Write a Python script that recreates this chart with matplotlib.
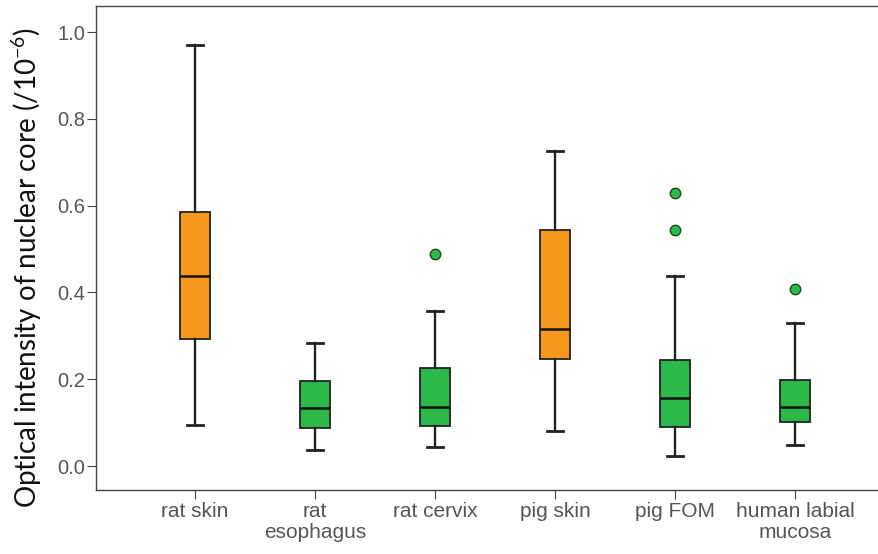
import matplotlib
matplotlib.use("Agg")
import matplotlib.pyplot as plt

categories = ["rat skin", "rat\nesophagus", "rat cervix", "pig skin", "pig FOM", "human labial\nmucosa"]
whisker_low = [0.094, 0.036, 0.043, 0.081, 0.024, 0.049]
q1 = [0.293, 0.088, 0.092, 0.246, 0.089, 0.102]
medians = [0.438, 0.135, 0.136, 0.316, 0.158, 0.137]
q3 = [0.585, 0.196, 0.227, 0.545, 0.245, 0.198]
whisker_high = [0.970, 0.283, 0.357, 0.727, 0.438, 0.329]
outliers = [[], [], [0.489], [], [0.545, 0.629], [0.408]]
box_colors = ["#F7981D", "#2DB84A", "#2DB84A", "#F7981D", "#2DB84A", "#2DB84A"]
yticks = [0.0, 0.2, 0.4, 0.6, 0.8, 1.0]

fig = plt.figure(figsize=(8.79, 5.54), dpi=100)
ax = fig.add_axes([96/879, 64/554, 1 - 96/879, (490-6)/554])

stats = []
for i in range(len(categories)):
    stats.append(dict(med=medians[i], q1=q1[i], q3=q3[i],
                      whislo=whisker_low[i], whishi=whisker_high[i],
                      fliers=outliers[i], label=categories[i]))

positions = list(range(1, len(categories) + 1))
bp = ax.bxp(stats, positions=positions, widths=0.25, patch_artist=True,
            showfliers=True,
            boxprops=dict(edgecolor="#222222", linewidth=1.3),
            medianprops=dict(color="#111111", linewidth=1.8),
            whiskerprops=dict(color="#222222", linewidth=1.7),
            capprops=dict(color="#222222", linewidth=2.0),
            flierprops=dict(marker="o", markersize=7.5, markeredgecolor="#1a4d1a",
                            markeredgewidth=1.0))
for patch, c in zip(bp["boxes"], box_colors):
    patch.set_facecolor(c)
for fl, c in zip(bp["fliers"], box_colors):
    fl.set_markerfacecolor(c)
for cap in bp["caps"]:
    x = cap.get_xdata()
    m = (x[0] + x[1]) / 2
    cap.set_xdata([m - 0.067, m + 0.067])

ax.set_xlim(1 - 99/120, 1 - 99/120 + 783/120)
ax.set_ylim(-0.055, 1.06)
ax.set_yticks(yticks)
ax.set_yticklabels([f"{v:.1f}" for v in yticks])
ax.set_xticks(positions)
ax.set_xticklabels(categories)

for s in ["left", "bottom", "top"]:
    ax.spines[s].set_color("#444444")
    ax.spines[s].set_linewidth(1.0)
ax.spines["right"].set_visible(False)
ax.tick_params(axis="both", direction="out", length=6.5, color="#444444",
               labelcolor="#555555")
ax.tick_params(axis="y", labelsize=14.5, pad=1)
ax.tick_params(axis="x", labelsize=15, pad=2)
for lab in ax.get_xticklabels() + ax.get_yticklabels():
    lab.set_family("Liberation Sans")
    lab.set_linespacing(1.15)

ax.set_ylabel(r"Optical intensity of nuclear core (/10$^{\mathregular{-6}}$)",
              fontsize=20, family="Lato", color="#111111")
ax.yaxis.set_label_coords(-0.066, 0.46)

fig.savefig("out.png", dpi=100)
